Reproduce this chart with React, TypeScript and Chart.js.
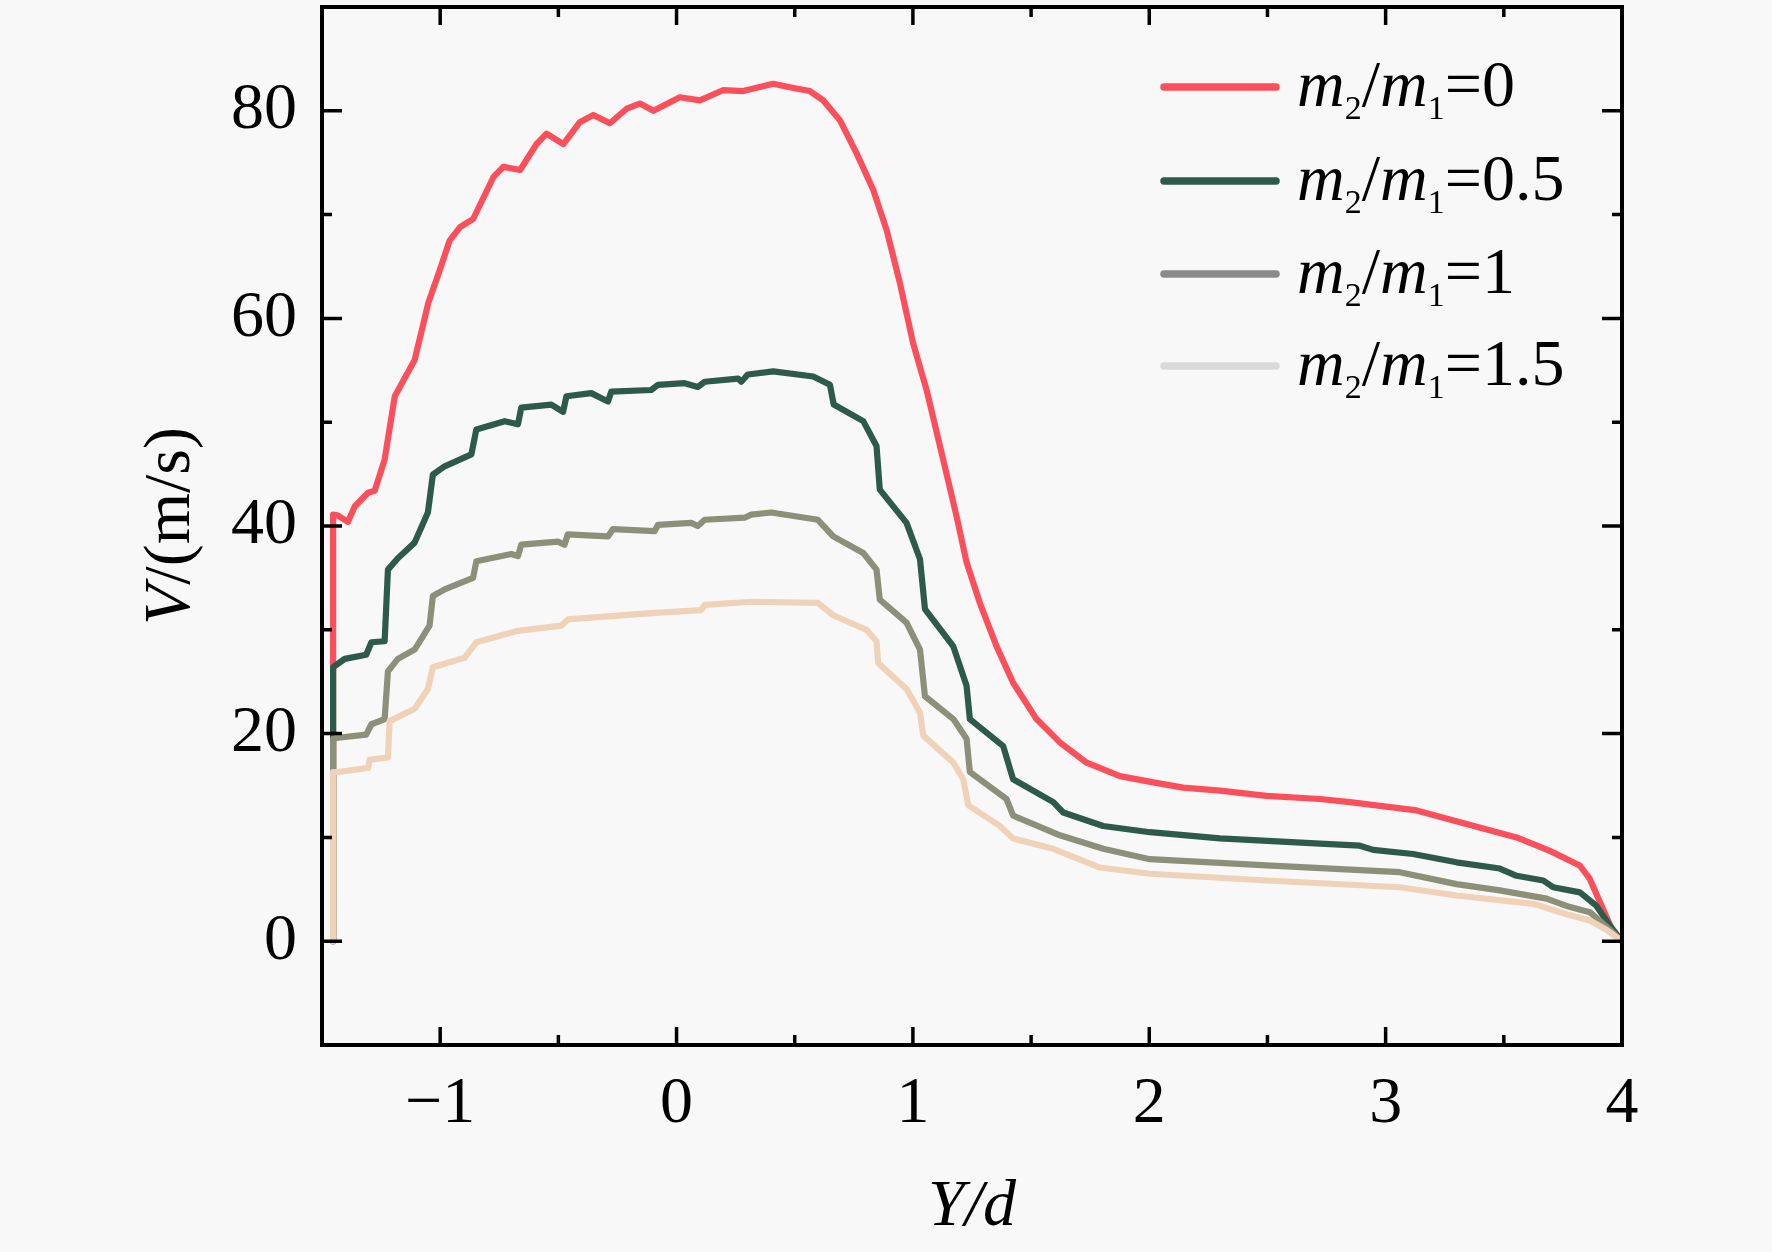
import React, { useEffect, useRef } from 'react';
import { Chart, registerables } from 'chart.js';

Chart.register(...registerables);

const FONT = '"Liberation Serif", "Times New Roman", serif';
const BG = '#f8f8f8';

const X_MIN = -1.5;
const X_MAX = 4;
const Y_MIN = -10;
const Y_MAX = 90;
const xMajorTicks = [-1, 0, 1, 2, 3, 4];
const yMajorTicks = [0, 20, 40, 60, 80];

const seriesLabels = ['m₂/m₁=0', 'm₂/m₁=0.5', 'm₂/m₁=1', 'm₂/m₁=1.5'];
const legendValues = ['0', '0.5', '1', '1.5'];
const lineColors = ['#fb4f5c', '#2d5a4b', '#8c9078', '#f0d2b8'];
const legendColors = ['#fb4f5c', '#2d5a4b', '#8a8a8a', '#d9d9d9'];

// [Y/d, V (m/s)]
const ratio0: [number, number][] = [
  [-1.453, 0], [-1.453, 41.1], [-1.432, 41.0], [-1.39, 40.4], [-1.361, 41.9], [-1.305, 43.2],
  [-1.277, 43.4], [-1.235, 46.4], [-1.192, 52.5], [-1.108, 56.0], [-1.05, 61.5], [-1.001, 64.7],
  [-0.96, 67.5], [-0.916, 68.8], [-0.86, 69.6], [-0.775, 73.6], [-0.733, 74.6], [-0.662, 74.3],
  [-0.592, 76.8], [-0.55, 77.8], [-0.479, 76.8], [-0.409, 78.9], [-0.352, 79.6], [-0.282, 78.8],
  [-0.211, 80.2], [-0.155, 80.7], [-0.098, 80.0], [0.014, 81.3], [0.099, 81.0], [0.198, 82.0],
  [0.282, 81.9], [0.409, 82.6], [0.494, 82.2], [0.564, 81.9], [0.621, 81.0], [0.691, 79.1],
  [0.762, 75.9], [0.832, 72.4], [0.889, 68.5], [0.945, 63.4], [1.001, 57.6], [1.058, 53.1],
  [1.128, 46.4], [1.185, 40.9], [1.227, 36.5], [1.283, 32.6], [1.354, 28.4], [1.424, 24.9],
  [1.523, 21.4], [1.622, 19.15], [1.735, 17.2], [1.876, 15.9], [2.017, 15.3], [2.143, 14.8],
  [2.299, 14.5], [2.496, 14.0], [2.722, 13.7], [2.849, 13.4], [3.131, 12.6], [3.342, 11.3],
  [3.554, 10.0], [3.695, 8.7], [3.821, 7.3], [3.864, 6.0], [3.906, 3.8], [3.962, 0.9], [4.0, 0],
];

const ratio05: [number, number][] = [
  [-1.453, 0], [-1.453, 26.4], [-1.404, 27.2], [-1.313, 27.6], [-1.291, 28.8], [-1.235, 28.9],
  [-1.221, 35.8], [-1.179, 36.9], [-1.108, 38.4], [-1.052, 41.3], [-1.031, 44.95], [-0.981, 45.75],
  [-0.868, 46.9], [-0.847, 49.3], [-0.727, 50.1], [-0.671, 49.8], [-0.657, 51.4], [-0.53, 51.7],
  [-0.48, 51.0], [-0.466, 52.5], [-0.361, 52.8], [-0.29, 52.0], [-0.276, 52.95], [-0.107, 53.1],
  [-0.079, 53.6], [0.034, 53.76], [0.09, 53.4], [0.119, 53.9], [0.26, 54.2], [0.274, 53.9],
  [0.302, 54.6], [0.409, 54.9], [0.578, 54.4], [0.649, 53.6], [0.665, 51.7], [0.79, 50.1],
  [0.846, 47.7], [0.86, 43.5], [0.973, 40.3], [1.03, 36.8], [1.051, 32.0], [1.171, 28.4],
  [1.227, 24.6], [1.241, 21.4], [1.382, 18.8], [1.424, 15.6], [1.594, 13.4], [1.636, 12.4],
  [1.805, 11.1], [2.003, 10.5], [2.299, 9.9], [2.722, 9.4], [2.891, 9.2], [2.947, 8.8],
  [3.116, 8.4], [3.3, 7.6], [3.483, 7.0], [3.554, 6.3], [3.667, 5.85], [3.709, 5.2],
  [3.822, 4.7], [3.892, 3.4], [3.949, 1.5], [4.0, 0],
];

const ratio1: [number, number][] = [
  [-1.453, 0], [-1.453, 19.5], [-1.432, 19.6], [-1.313, 19.9], [-1.291, 20.9], [-1.235, 21.4],
  [-1.221, 26.0], [-1.179, 27.2], [-1.108, 28.1], [-1.045, 30.4], [-1.031, 33.25], [-0.981, 33.9],
  [-0.861, 35.0], [-0.847, 36.6], [-0.699, 37.3], [-0.671, 37.1], [-0.657, 38.2], [-0.502, 38.5],
  [-0.474, 38.2], [-0.46, 39.2], [-0.29, 39.0], [-0.269, 39.7], [-0.093, 39.5], [-0.079, 40.1],
  [0.062, 40.3], [0.09, 40.0], [0.119, 40.6], [0.288, 40.8], [0.316, 41.1], [0.401, 41.3],
  [0.598, 40.6], [0.663, 39.0], [0.79, 37.4], [0.846, 35.8], [0.86, 32.9], [0.973, 30.7],
  [1.03, 28.1], [1.051, 23.6], [1.171, 21.4], [1.227, 19.5], [1.241, 16.3], [1.396, 13.7],
  [1.424, 12.1], [1.622, 10.2], [1.805, 8.9], [2.002, 7.9], [2.496, 7.3], [3.06, 6.65],
  [3.3, 5.5], [3.483, 4.9], [3.681, 4.1], [3.765, 3.4], [3.864, 2.8], [3.949, 1.1], [4.0, 0],
];

const ratio15: [number, number][] = [
  [-1.453, 0], [-1.453, 16.3], [-1.432, 16.3], [-1.305, 16.7], [-1.298, 17.5], [-1.221, 17.7],
  [-1.214, 21.2], [-1.108, 22.4], [-1.052, 24.3], [-1.031, 26.4], [-0.897, 27.3], [-0.847, 28.8],
  [-0.671, 29.9], [-0.488, 30.4], [-0.46, 31.0], [-0.29, 31.3], [-0.107, 31.6], [0.104, 31.9],
  [0.119, 32.4], [0.316, 32.7], [0.598, 32.6], [0.663, 31.4], [0.804, 30.0], [0.846, 28.9],
  [0.853, 26.8], [0.973, 24.3], [1.03, 22.0], [1.044, 19.8], [1.171, 17.2], [1.213, 15.6],
  [1.234, 13.1], [1.368, 11.1], [1.424, 9.9], [1.594, 8.9], [1.791, 7.1], [2.002, 6.5],
  [2.496, 5.85], [3.06, 5.2], [3.3, 4.4], [3.625, 3.6], [3.765, 2.6], [3.864, 2.0],
  [3.934, 1.1], [4.0, 0],
];

const allSeries = [ratio0, ratio05, ratio1, ratio15];
const drawOrder = [4, 3, 2, 1];

const yTitleParts: [string, string][] = [['V', 'italic'], ['/(m/s)', 'normal']];

const bgPlugin = {
  id: 'bgFill',
  beforeDraw(chart: any) {
    const { ctx, width, height } = chart;
    ctx.save();
    ctx.fillStyle = BG;
    ctx.fillRect(0, 0, width, height);
    ctx.restore();
  },
};

function drawLegendText(ctx: CanvasRenderingContext2D, x: number, baseline: number, value: string) {
  const big = 66;
  const sub = 34;
  const parts: [string, string, number][] = [
    ['m', `italic ${big}px ${FONT}`, 0],
    ['2', `${sub}px ${FONT}`, 13],
    ['/', `${big}px ${FONT}`, 0],
    ['m', `italic ${big}px ${FONT}`, 0],
    ['1', `${sub}px ${FONT}`, 13],
    ['=' + value, `${big}px ${FONT}`, 0],
  ];
  let cx = x;
  ctx.textAlign = 'left';
  ctx.textBaseline = 'alphabetic';
  ctx.fillStyle = '#000';
  for (const [t, f, dy] of parts) {
    ctx.font = f;
    ctx.fillText(t, cx, baseline + dy);
    cx += ctx.measureText(t).width;
  }
}

const decorPlugin = {
  id: 'decor',
  afterDraw(chart: any) {
    const { ctx, chartArea: a } = chart;
    const sx = chart.scales.x;
    const sy = chart.scales.y;
    ctx.save();
    ctx.strokeStyle = '#000';
    ctx.lineWidth = 3.5;
    ctx.lineCap = 'butt';
    ctx.beginPath();
    for (const t of sx.ticks) {
      const v = t.value;
      if (v <= X_MIN + 1e-6 || v >= X_MAX - 1e-6) continue;
      const px = sx.getPixelForValue(v);
      const major = xMajorTicks.some((m) => Math.abs(m - v) < 1e-6);
      const len = major ? 18 : 10;
      ctx.moveTo(px, a.bottom);
      ctx.lineTo(px, a.bottom - len);
      ctx.moveTo(px, a.top);
      ctx.lineTo(px, a.top + len);
    }
    for (const t of sy.ticks) {
      const v = t.value;
      if (v <= Y_MIN + 1e-6 || v >= Y_MAX - 1e-6) continue;
      const py = sy.getPixelForValue(v);
      const major = yMajorTicks.some((m) => Math.abs(m - v) < 1e-6);
      const len = major ? 20 : 10;
      ctx.moveTo(a.left, py);
      ctx.lineTo(a.left + len, py);
      ctx.moveTo(a.right, py);
      ctx.lineTo(a.right - len, py);
    }
    ctx.stroke();

    ctx.lineWidth = 4;
    ctx.strokeRect(a.left, a.top, a.right - a.left, a.bottom - a.top);

    // y-axis title with italic V
    ctx.save();
    ctx.translate(172, (a.top + a.bottom) / 2);
    ctx.rotate(-Math.PI / 2);
    ctx.fillStyle = '#000';
    ctx.textBaseline = 'middle';
    ctx.textAlign = 'left';
    let total = 0;
    for (const [t, st] of yTitleParts) {
      ctx.font = `${st} 66px ${FONT}`;
      total += ctx.measureText(t).width;
    }
    let cx = -total / 2;
    for (const [t, st] of yTitleParts) {
      ctx.font = `${st} 66px ${FONT}`;
      ctx.fillText(t, cx, 0);
      cx += ctx.measureText(t).width;
    }
    ctx.restore();

    // legend
    const rowY = [87, 181, 274, 366];
    for (let i = 0; i < legendValues.length; i++) {
      const y = rowY[i];
      ctx.strokeStyle = legendColors[i];
      ctx.lineWidth = 7.5;
      ctx.lineCap = 'round';
      ctx.beginPath();
      ctx.moveTo(1164, y);
      ctx.lineTo(1276, y);
      ctx.stroke();
      drawLegendText(ctx, 1297, y + 19, legendValues[i]);
    }
    ctx.restore();
  },
};

function formatX(v: number): string {
  const r = Math.round(v);
  if (Math.abs(v - r) > 1e-6 || !xMajorTicks.includes(r)) return '';
  return r < 0 ? '\u2212' + Math.abs(r) : String(r);
}

function formatY(v: number): string {
  const r = Math.round(v);
  if (Math.abs(v - r) > 1e-6 || !yMajorTicks.includes(r)) return '';
  return String(r);
}

export default function App() {
  const canvasRef = useRef<HTMLCanvasElement | null>(null);

  useEffect(() => {
    document.body.style.margin = '0';
    document.body.style.background = BG;
    const canvas = canvasRef.current;
    if (!canvas) return;

    const datasets = allSeries.map((s, i) => ({
      label: seriesLabels[i],
      data: s.map(([x, y]) => ({ x, y })),
      borderColor: lineColors[i],
      backgroundColor: lineColors[i],
      borderWidth: 6.2,
      pointRadius: 0,
      tension: 0,
      fill: false,
      order: drawOrder[i],
      borderJoinStyle: 'round' as const,
      borderCapStyle: 'round' as const,
    }));

    const tickFont = { family: FONT, size: 66 };

    const chart = new Chart(canvas, {
      type: 'line',
      data: { datasets },
      options: {
        animation: false,
        responsive: false,
        maintainAspectRatio: false,
        devicePixelRatio: 1,
        layout: { padding: { left: 0, right: 150, top: 7, bottom: 0 }, autoPadding: false },
        plugins: { legend: { display: false }, tooltip: { enabled: false }, title: { display: false } },
        scales: {
          x: {
            type: 'linear',
            min: X_MIN,
            max: X_MAX,
            grid: { display: false, drawTicks: false },
            border: { display: false },
            ticks: {
              stepSize: 0.5,
              autoSkip: false,
              maxRotation: 0,
              minRotation: 0,
              padding: 20,
              color: '#000',
              font: tickFont,
              callback: (v: any) => formatX(Number(v)),
            },
            title: {
              display: true,
              text: 'Y/d',
              color: '#000',
              font: { family: FONT, size: 66, style: 'italic' },
              padding: { top: 0, bottom: 5 },
            },
            afterFit: (s: any) => {
              s.height = 207;
              s.paddingLeft = 0;
              s.paddingRight = 0;
            },
          },
          y: {
            type: 'linear',
            min: Y_MIN,
            max: Y_MAX,
            grid: { display: false, drawTicks: false },
            border: { display: false },
            ticks: {
              stepSize: 10,
              autoSkip: false,
              padding: 25,
              color: '#000',
              font: tickFont,
              callback: (v: any) => formatY(Number(v)),
            },
            afterFit: (s: any) => {
              s.width = 322;
              s.paddingTop = 0;
              s.paddingBottom = 0;
            },
          },
        },
      },
      plugins: [bgPlugin, decorPlugin],
    } as any);

    return () => chart.destroy();
  }, []);

  return (
    <div style={{ width: 1772, height: 1252, background: BG, overflow: 'hidden' }}>
      <canvas ref={canvasRef} width={1772} height={1252} style={{ display: 'block', width: 1772, height: 1252 }} />
    </div>
  );
}
